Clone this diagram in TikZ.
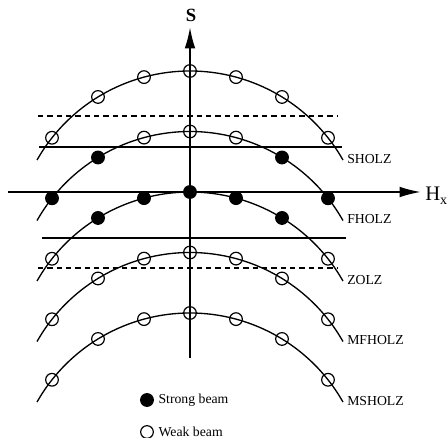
\documentclass[tikz,border=0pt]{standalone}
\usepackage{fontspec}
\setmainfont{Liberation Serif}
\usetikzlibrary{arrows.meta}
\begin{document}
\begin{tikzpicture}[x=0.75pt,y=-0.75pt,
  arcline/.style={line width=1pt},
  axisline/.style={line width=1.5pt,-{Latex[length=16pt,width=8pt]}},
  hline/.style={line width=1pt},
  dline/.style={line width=1pt,dash pattern=on 4pt off 3pt},
  weak/.style={circle,draw,line width=0.9pt,inner sep=0pt,minimum size=9.5pt},
  strong/.style={circle,draw,fill=black,line width=0.9pt,inner sep=0pt,minimum size=9.5pt},
  lbl/.style={inner sep=1pt,font=\fontsize{10.3}{12}\selectfont}]
\useasboundingbox (0,0) rectangle (447,438);
% horizontal reference lines
\coordinate (d1a) at (38,116); \coordinate (d1b) at (337,116);
\coordinate (s1a) at (39,147); \coordinate (s1b) at (342,147);
\coordinate (s2a) at (42,238); \coordinate (s2b) at (346,238);
\coordinate (d2a) at (38,268); \coordinate (d2b) at (337,268);
\draw[dline] (d1a) -- (d1b);
\draw[hline] (s1a) -- (s1b);
\draw[hline] (s2a) -- (s2b);
\draw[dline] (d2a) -- (d2b);
% arcs with markers
\foreach \i/\ap/\ta/\tb/\tc/\name in {1/71/weak/weak/weak/SHOLZ,
   2/131.5/strong/strong/weak/FHOLZ,
   3/192/weak/strong/strong/ZOLZ,
   4/252.5/weak/weak/weak/MFHOLZ,
   5/313/weak/weak/weak/MSHOLZ}{
  \draw[arcline] plot[domain=-153:153,samples=61,smooth]
     ({190+\x},{\ap+176-100*sqrt(1.76*1.76-(\x/100)^2)});
  \coordinate (e\i) at (343,\ap+89);
  \node[lbl,anchor=west] (l\i) at ([xshift=2pt,yshift=1pt]e\i) {\name};
  \node[\ta] (m\i-1) at (52,\ap+66.77) {};
  \node[\tb] (m\i-2) at (98,\ap+25.96) {};
  \node[\tc] (m\i-3) at (144,\ap+6.12) {};
  \node[\tc] (m\i-4) at (190,\ap) {};
  \node[\tc] (m\i-5) at (236,\ap+6.12) {};
  \node[\tb] (m\i-6) at (282,\ap+25.96) {};
  \node[\ta] (m\i-7) at (328,\ap+66.77) {};
}
% axes
\coordinate (vb) at (190,358); \coordinate (vt) at (190,27);
\coordinate (hl) at (8,192); \coordinate (hr) at (421,192);
\draw[axisline] (vb) -- (vt);
\draw[axisline] (hl) -- (hr);
\node[font=\bfseries\fontsize{14}{14}\selectfont,inner sep=0pt] (S) at (191,15) {S};
\node[anchor=west,inner sep=0pt,font=\fontsize{15.5}{15}\selectfont] (H) at (425,196)
  {H\raisebox{-0.45ex}{\fontsize{10.5}{10}\selectfont x}};
% legend
\node[strong] (ls) at (147,400) {};
\node[lbl,anchor=west] (lst) at (157,400) {Strong beam};
\node[weak] (lw) at (147,432) {};
\node[lbl,anchor=west] (lwt) at (157,432) {Weak beam};
\end{tikzpicture}
\end{document}
